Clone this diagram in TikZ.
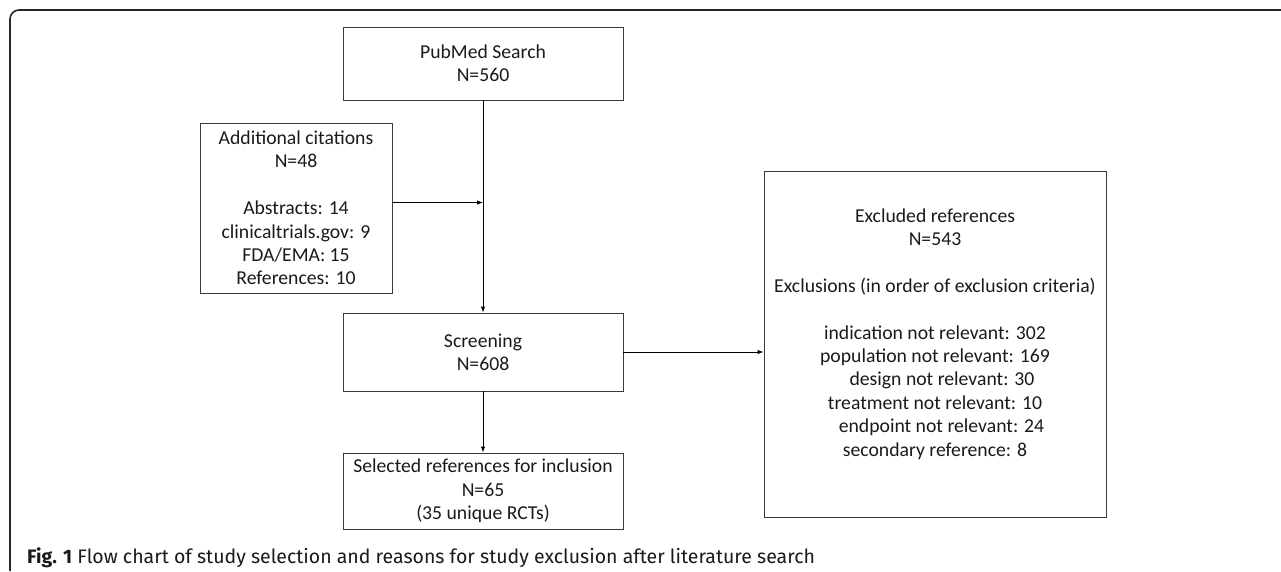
\documentclass[tikz,border=0pt]{standalone}
\usepackage{fontspec}
\setmainfont{Carlito}
\newfontfamily\capfont{Fira Sans}
\usetikzlibrary{arrows.meta}
\definecolor{boxline}{HTML}{3A3A3A}
\definecolor{txt}{HTML}{1A1A1A}
\begin{document}
\begin{tikzpicture}[x=1pt,y=-1pt,
  fbox/.style={draw=boxline,line width=0.9pt,inner sep=0pt,align=center,
    font=\fontsize{19.7}{23.4}\selectfont,text=txt},
  arr/.style={draw=black,line width=0.9pt,-{Latex[length=6pt,width=4.5pt]}}]
\useasboundingbox (0,0) rectangle (1281,571);
% frame
\draw[line width=1.6pt,color=black!85] (10,571) -- (10,19) arc[start angle=180,end angle=270,radius=9] -- (1281,10);
% boxes
\node[fbox,minimum width=280pt,minimum height=73pt] (pub) at (483,63.5) {PubMed Search\\N=560};
\node[fbox,minimum width=192pt,minimum height=170pt] (add) at (296,208) {Additional citations\\N=48\\[23.4pt]Abstracts: 14\\clinicaltrials.gov: 9\\FDA/EMA: 15\\References: 10};
\node[fbox,minimum width=280pt,minimum height=78pt] (scr) at (483,352) {Screening\\N=608};
\node[fbox,minimum width=280pt,minimum height=76pt] (sel) at (483,491) {Selected references for inclusion\\N=65\\(35 unique RCTs)};
\node[fbox,minimum width=342pt,minimum height=346pt] (exc) at (935,344) {Excluded references\\N=543\\[23.4pt]Exclusions (in order of exclusion criteria)\\[23.4pt]indication not relevant: 302\\population not relevant: 169\\\hspace*{14pt}design not relevant: 30\\treatment not relevant: 10\\\hspace*{13pt}endpoint not relevant: 24\\secondary reference: 8\\~};
% connectors
\coordinate (j) at (483,202.5);
\draw[arr] (pub.south) -- (scr.north);
\draw[arr] (add.east |- j) -- (j);
\draw[arr] (scr.south) -- (sel.north);
\draw[arr] (scr.east) -- (scr.east -| exc.west);
% caption
\node[anchor=base west,inner sep=0pt,text=txt,font=\capfont\fontsize{19.5}{22}\selectfont] (cap) at (27,563) {\textbf{Fig. 1} Flow chart of study selection and reasons for study exclusion after literature search};
\end{tikzpicture}
\end{document}
